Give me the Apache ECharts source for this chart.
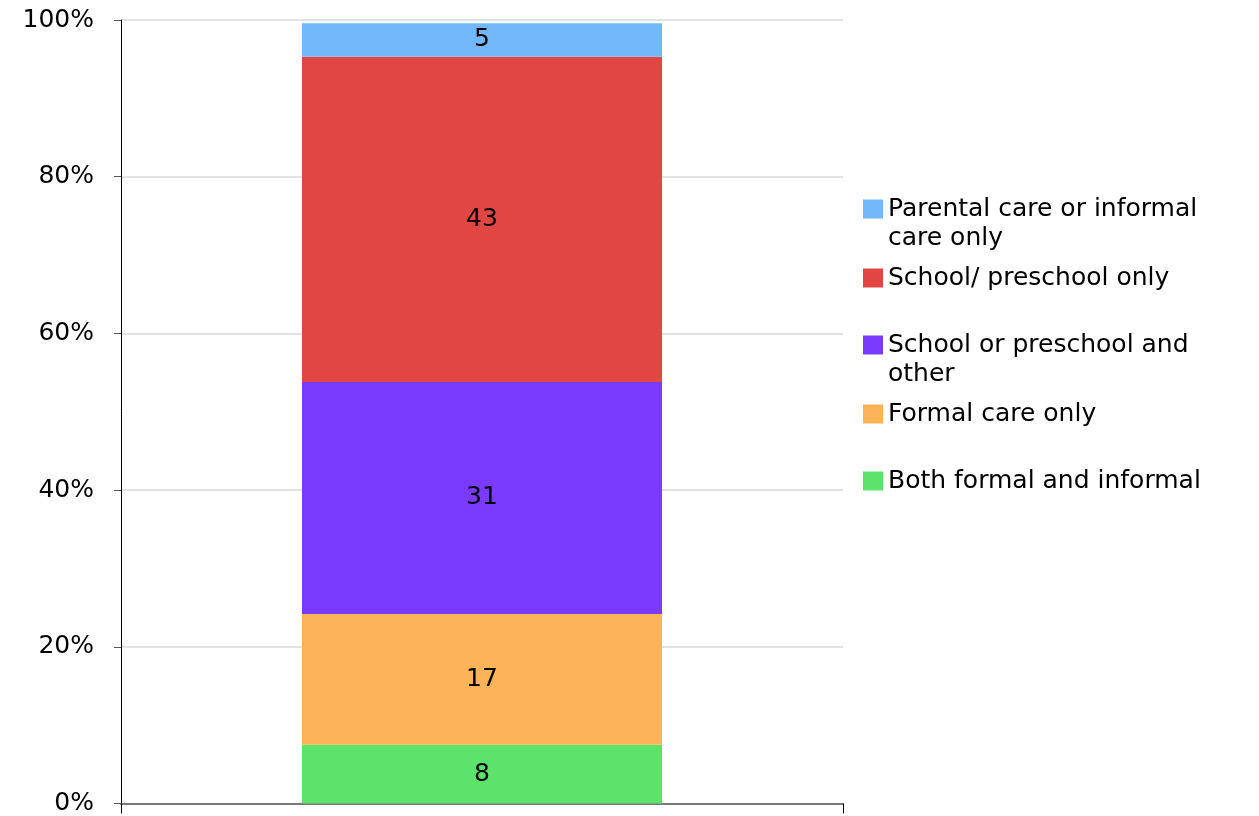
<!DOCTYPE html>
<html>
<head>
<meta charset="utf-8">
<script src="https://cdn.jsdelivr.net/npm/echarts@6/dist/echarts.min.js"></script>
<style>
  html, body { margin: 0; padding: 0; background: #fff; }
  #chart { width: 1259px; height: 816px; }
</style>
</head>
<body>
<div id="chart"></div>
<script>
// categories (bottom to top of the stack)
const seriesNames = [
  'Both formal and informal',
  'Formal care only',
  'School or preschool and other',
  'School/ preschool only',
  'Parental care or informal care only'
]
// bar heights as share of 100%
const shares = [7.5, 16.7, 29.6, 41.5, 4.3]
// numbers printed on the segments
const labels = [8, 17, 31, 43, 5]
const colors = ['#5be36b', '#fdb457', '#7b3bfe', '#e24643', '#74b8fc']
const yTicks = [0, 20, 40, 60, 80, 100]

// legend text with the original line breaks
// (a leading blank line keeps the icon level with the first line)
const legendText = {
  'Parental care or informal care only': '\nParental care or informal\ncare only',
  'School/ preschool only': 'School/ preschool only',
  'School or preschool and other': '\nSchool or preschool and\nother',
  'Formal care only': 'Formal care only',
  'Both formal and informal': 'Both formal and informal'
}

const font = '"DejaVu Sans", Verdana, sans-serif'
const chart = echarts.init(document.getElementById('chart'))

// legend order top to bottom, with icon centre y
const legendOrder = [
  { name: 'Parental care or informal care only', y: 209, lines: 3 },
  { name: 'School/ preschool only', y: 278, lines: 1 },
  { name: 'School or preschool and other', y: 345, lines: 3 },
  { name: 'Formal care only', y: 414, lines: 1 },
  { name: 'Both formal and informal', y: 481, lines: 1 }
]
const LH = 29

const legends = legendOrder.map(l => ({
  data: [l.name],
  orient: 'vertical',
  left: 863,
  top: l.y - LH * l.lines / 2,
  padding: 0,
  itemWidth: 20,
  itemHeight: 19,
  icon: 'rect',
  selectedMode: false,
  formatter: n => legendText[n],
  textStyle: {
    fontFamily: font,
    fontSize: 25,
    lineHeight: LH,
    color: '#000'
  }
}))

const option = {
  animation: false,
  backgroundColor: '#fff',
  grid: { left: 121, right: 416, top: 20, bottom: 10 },
  legend: legends,
  xAxis: {
    type: 'category',
    data: [''],
    axisLine: { lineStyle: { color: '#7a7a7a', width: 2 } },
    axisTick: { show: true, length: 10, lineStyle: { color: '#000' } },
    axisLabel: { show: false }
  },
  yAxis: {
    type: 'value',
    min: 0,
    max: 100,
    interval: 20,
    axisLine: { show: true, lineStyle: { color: '#000', width: 1 } },
    axisTick: { show: true, length: 7, lineStyle: { color: '#555' } },
    axisLabel: {
      formatter: v => yTicks.includes(v) ? v + '%' : '',
      fontFamily: font,
      fontSize: 25,
      color: '#000',
      margin: 27
    },
    splitLine: { lineStyle: { color: '#dadada', width: 1.5 } }
  },
  series: seriesNames.map((name, i) => ({
    name,
    type: 'bar',
    stack: 'total',
    barWidth: 360,
    data: [shares[i]],
    itemStyle: { color: colors[i] },
    label: {
      show: true,
      position: 'inside',
      formatter: () => String(labels[i]),
      fontFamily: font,
      fontSize: 25,
      color: '#000'
    }
  }))
}

chart.setOption(option)
</script>
</body>
</html>
